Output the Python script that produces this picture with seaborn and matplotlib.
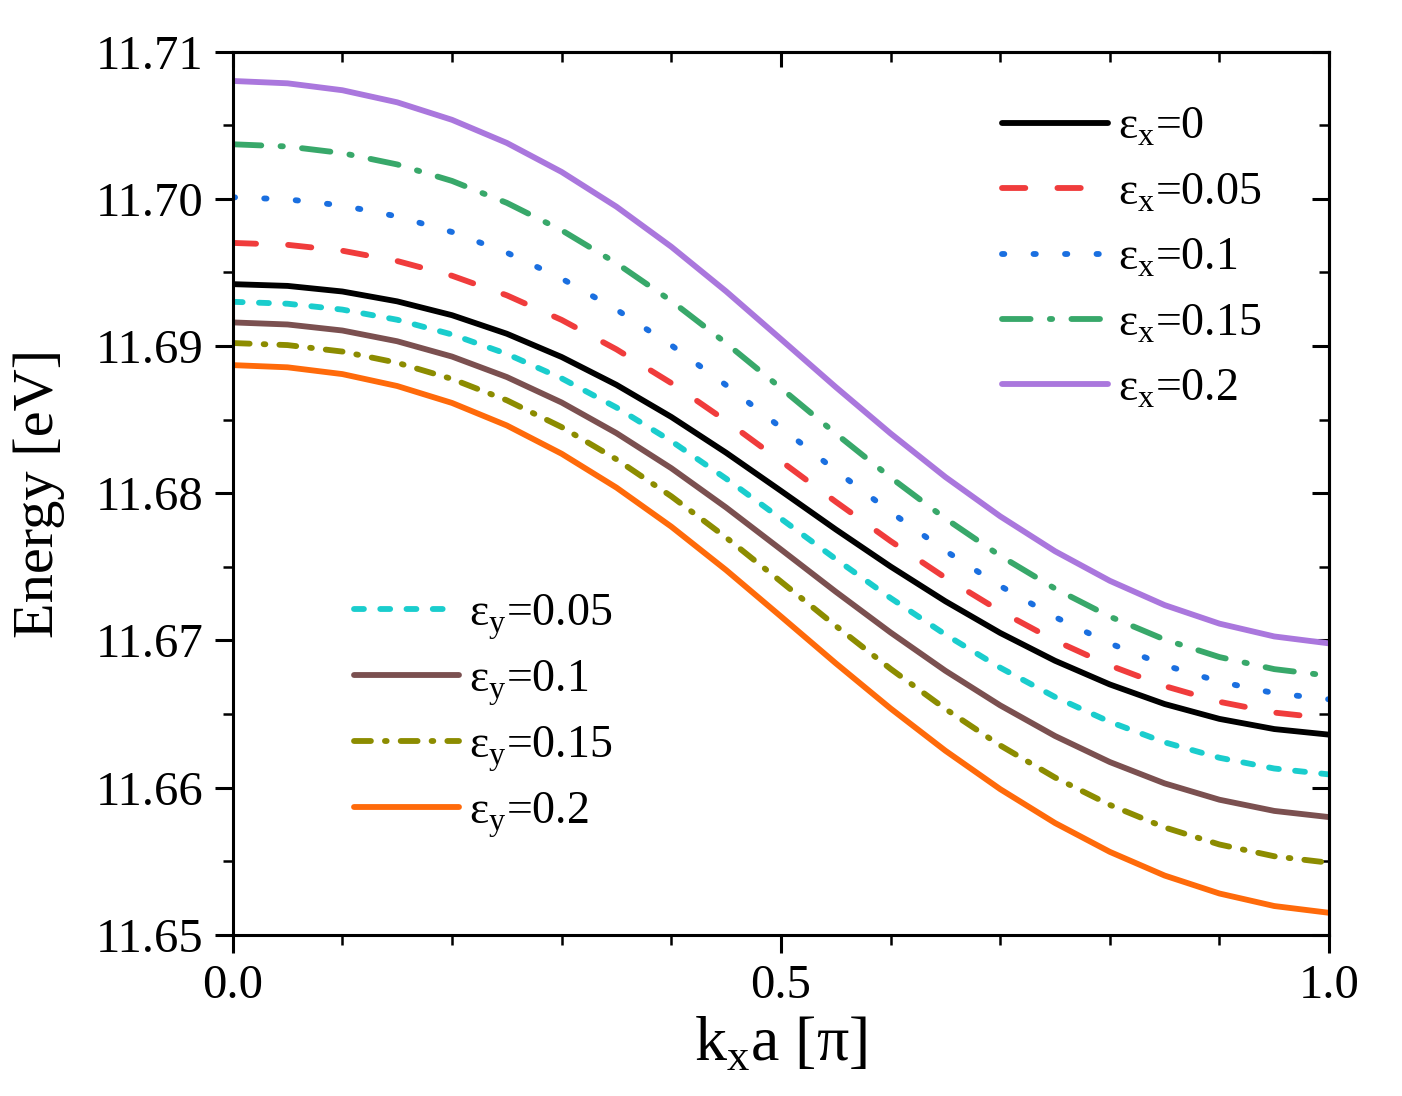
import matplotlib
matplotlib.use('Agg')
import matplotlib.pyplot as plt
import seaborn as sns
from matplotlib.ticker import MultipleLocator, FormatStrFormatter

# k_x a in units of pi
kx = [0.0, 0.05, 0.1, 0.15, 0.2, 0.25, 0.3, 0.35, 0.4, 0.45, 0.5,
      0.55, 0.6, 0.65, 0.7, 0.75, 0.8, 0.85, 0.9, 0.95, 1.0]

ex_0 = [11.6942, 11.69408, 11.6937, 11.69303, 11.69209, 11.69083, 11.68925, 11.68736, 11.68518, 11.68275, 11.68016,
        11.67754, 11.67502, 11.67266, 11.67051, 11.66862, 11.66701, 11.66568, 11.66467, 11.66398, 11.6636]
ex_005 = [11.6970, 11.69687, 11.69647, 11.69577, 11.69477, 11.69344, 11.69177, 11.68977, 11.68748, 11.68491, 11.68218,
          11.67942, 11.67675, 11.67426, 11.67199, 11.66999, 11.6683, 11.6669, 11.66583, 11.6651, 11.6647]
ex_01 = [11.7001, 11.69996, 11.69954, 11.6988, 11.69774, 11.69634, 11.69458, 11.69247, 11.69005, 11.68734, 11.68446,
         11.68154, 11.67873, 11.67609, 11.6737, 11.67159, 11.6698, 11.66832, 11.6672, 11.66642, 11.6660]
ex_015 = [11.7037, 11.70355, 11.7031, 11.70233, 11.70121, 11.69972, 11.69786, 11.69562, 11.69306, 11.69019, 11.68714,
          11.68405, 11.68107, 11.67828, 11.67575, 11.67352, 11.67162, 11.67006, 11.66887, 11.66805, 11.6676]
ex_02 = [11.7080, 11.70784, 11.70737, 11.70655, 11.70536, 11.70379, 11.70182, 11.69946, 11.69674, 11.69371, 11.69047,
         11.68721, 11.68406, 11.6811, 11.67843, 11.67606, 11.67405, 11.6724, 11.67114, 11.67027, 11.6698]
ey_005 = [11.6930, 11.69287, 11.69247, 11.69178, 11.69078, 11.68946, 11.6878, 11.68582, 11.68354, 11.68099, 11.67827,
          11.67553, 11.67288, 11.6704, 11.66815, 11.66616, 11.66447, 11.66308, 11.66203, 11.6613, 11.6609]
ey_01 = [11.6916, 11.69146, 11.69105, 11.69032, 11.68928, 11.68789, 11.68616, 11.68408, 11.6817, 11.67903, 11.67618,
         11.67331, 11.67054, 11.66794, 11.66559, 11.66351, 11.66174, 11.66029, 11.65918, 11.65842, 11.6580]
ey_015 = [11.6902, 11.69006, 11.68962, 11.68886, 11.68776, 11.68631, 11.68449, 11.6823, 11.67979, 11.67699, 11.674,
          11.67099, 11.66807, 11.66535, 11.66287, 11.66069, 11.65883, 11.6573, 11.65614, 11.65534, 11.6549]
ey_02 = [11.6887, 11.68855, 11.68809, 11.68728, 11.68613, 11.6846, 11.68268, 11.68038, 11.67773, 11.67478, 11.67163,
         11.66845, 11.66538, 11.66251, 11.6599, 11.6576, 11.65564, 11.65403, 11.65281, 11.65196, 11.6515]

labels_x = [r'ε$_\mathregular{x}$=0', r'ε$_\mathregular{x}$=0.05', r'ε$_\mathregular{x}$=0.1',
            r'ε$_\mathregular{x}$=0.15', r'ε$_\mathregular{x}$=0.2']
labels_y = [r'ε$_\mathregular{y}$=0.05', r'ε$_\mathregular{y}$=0.1', r'ε$_\mathregular{y}$=0.15',
            r'ε$_\mathregular{y}$=0.2']

sns.set_style('ticks')
plt.rcParams['font.family'] = ['Liberation Serif', 'DejaVu Serif']
plt.rcParams['mathtext.fontset'] = 'custom'
plt.rcParams['mathtext.rm'] = 'Liberation Serif'
plt.rcParams['axes.linewidth'] = 2.2
for key in ['text.color', 'axes.labelcolor', 'xtick.color', 'ytick.color', 'axes.edgecolor']:
    plt.rcParams[key] = 'black'

# (color, dash pattern in linewidth units; None = solid)
styles_x = [('black', None), ('#F03C3C', (4.0, 5.5)), ('#1A6FE0', (0.4, 5.0)),
            ('#38A86A', (4.9, 3.3, 0.4, 3.3)), ('#AA77DD', None)]
styles_y = [('#1ACDCD', (1.7, 2.8)), ('#7B5050', None), ('#8C8C00', (2.9, 2.4, 0.3, 2.4)),
            ('#FF6A0A', None)]

fig = plt.figure(figsize=(14.02, 10.96), dpi=100)
ax = fig.add_axes([0.166, 0.147, 0.782, 0.806])

lw = 4.2


def draw(series, styles, labels):
    handles = []
    for ys, (c, d), lab in zip(series, styles, labels):
        sns.lineplot(x=kx, y=ys, ax=ax, color=c, linewidth=lw, label=lab, legend=False)
        ln = ax.lines[-1]
        ln.set_solid_capstyle('round')
        ln.set_dash_capstyle('round')
        ln.set_solid_joinstyle('round')
        if d is not None:
            ln.set_dashes(d)
        handles.append(ln)
    return handles


hx = draw([ex_0, ex_005, ex_01, ex_015, ex_02], styles_x, labels_x)
hy = draw([ey_005, ey_01, ey_015, ey_02], styles_y, labels_y)

ax.set_xlim(0, 1)
ax.set_ylim(11.65, 11.71)
ax.xaxis.set_major_locator(MultipleLocator(0.5))
ax.xaxis.set_minor_locator(MultipleLocator(0.1))
ax.yaxis.set_major_locator(MultipleLocator(0.01))
ax.yaxis.set_minor_locator(MultipleLocator(0.005))
ax.xaxis.set_major_formatter(FormatStrFormatter('%.1f'))
ax.yaxis.set_major_formatter(FormatStrFormatter('%.2f'))
ax.tick_params(which='major', direction='out', length=13, width=2.2, labelsize=35, pad=8)
ax.tick_params(which='minor', direction='out', length=7, width=1.8)

# inward ticks on top and right
top = ax.secondary_xaxis('top')
top.xaxis.set_major_locator(MultipleLocator(0.5))
top.xaxis.set_minor_locator(MultipleLocator(0.1))
top.tick_params(which='major', direction='in', length=11, width=2.2, labeltop=False)
top.tick_params(which='minor', direction='in', length=7, width=1.8)
right = ax.secondary_yaxis('right')
right.yaxis.set_major_locator(MultipleLocator(0.01))
right.yaxis.set_minor_locator(MultipleLocator(0.005))
right.tick_params(which='major', direction='in', length=12, width=2.2, labelright=False)
right.tick_params(which='minor', direction='in', length=7, width=1.8)

ax.set_xlabel(r'k$_\mathregular{x}$a [π]', fontsize=46, labelpad=6)
ax.set_ylabel('Energy [eV]', fontsize=42, labelpad=22)

leg1 = ax.legend(handles=hx, labels=labels_x, loc='upper left', bbox_to_anchor=(0.702, 0.938),
                 frameon=False, fontsize=33, handlelength=2.3, handletextpad=0.22,
                 labelspacing=0.5, borderpad=0, borderaxespad=0)
ax.add_artist(leg1)
ax.legend(handles=hy, labels=labels_y, loc='upper left', bbox_to_anchor=(0.1105, 0.388),
          frameon=False, fontsize=33, handlelength=2.3, handletextpad=0.22,
          labelspacing=0.36, borderpad=0, borderaxespad=0)

fig.savefig('out.png', dpi=100)
